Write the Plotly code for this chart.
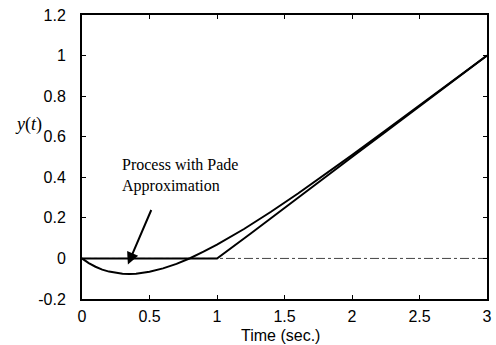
import plotly.graph_objects as go

# Response with Pade approximation of the delay
t_pade = [0.0, 0.05, 0.1, 0.15, 0.2, 0.25, 0.3, 0.35, 0.4, 0.5, 0.6, 0.7, 0.8, 0.9,
          1.0, 1.2, 1.4, 1.6, 1.8, 2.0, 2.25, 2.5, 2.75, 3.0]
y_pade = [0.0, -0.023, -0.041, -0.055, -0.065, -0.072, -0.076, -0.077, -0.075, -0.066,
          -0.049, -0.027, 0.001, 0.033, 0.068, 0.145, 0.230, 0.320, 0.414, 0.509,
          0.631, 0.753, 0.877, 1.0]

# Response with pure time delay
t_delay = [0.0, 1.0, 1.25, 1.5, 1.75, 2.0, 2.25, 2.5, 2.75, 3.0]
y_delay = [0.0, 0.0, 0.123, 0.25, 0.375, 0.5, 0.625, 0.75, 0.875, 1.0]

# Zero reference line
t_ref = [0.0, 3.0]
y_ref = [0.0, 0.0]

x_ticks = [0, 0.5, 1, 1.5, 2, 2.5, 3]
x_tick_text = ["0", "0.5", "1", "1.5", "2", "2.5", "3"]
y_ticks = [-0.2, 0, 0.2, 0.4, 0.6, 0.8, 1, 1.2]
y_tick_text = ["-0.2", "0", "0.2", "0.4", "0.6", "0.8", "1", "1.2"]

fig = go.Figure()
fig.add_trace(go.Scatter(x=t_ref, y=y_ref, mode="lines",
                         line=dict(color="#444444", width=1, dash="dashdot"),
                         showlegend=False))
fig.add_trace(go.Scatter(x=t_delay, y=y_delay, mode="lines",
                         line=dict(color="black", width=2), showlegend=False))
fig.add_trace(go.Scatter(x=t_pade, y=y_pade, mode="lines",
                         line=dict(color="black", width=2), showlegend=False))

fig.add_annotation(x=0.34, y=-0.03, ax=24, ay=-56, xref="x", yref="y",
                   showarrow=True, arrowhead=2, arrowsize=1.2, arrowwidth=2,
                   arrowcolor="black", text="")
fig.add_annotation(x=0.281, y=0.515, xref="x", yref="y", xanchor="left", yanchor="top",
                   showarrow=False, align="left",
                   text="Process with Pade<br>Approximation",
                   font=dict(family="Liberation Serif", size=16, color="black"))
fig.add_annotation(x=-0.133, y=0.613, xref="paper", yref="paper",
                   xanchor="center", yanchor="middle", showarrow=False,
                   text="<i>y</i>(<i>t</i>)",
                   font=dict(family="Liberation Serif", size=18, color="black"))
fig.add_annotation(x=0.49, y=-0.13, xref="paper", yref="paper",
                   xanchor="center", yanchor="middle", showarrow=False,
                   text="Time (sec.)",
                   font=dict(family="Liberation Sans", size=16, color="black"))

axis_common = dict(showline=True, linecolor="black", linewidth=2, mirror="ticks",
                   ticks="inside", ticklen=4, tickwidth=1, tickcolor="black",
                   showgrid=False, zeroline=False, automargin=False,
                   tickfont=dict(family="Liberation Sans", size=16, color="black"))

fig.update_xaxes(range=[0, 3], tickvals=x_ticks, ticktext=x_tick_text,
                 ticklabelstandoff=2, **axis_common)
fig.update_yaxes(range=[-0.2, 1.2], tickvals=y_ticks, ticktext=y_tick_text,
                 ticklabelstandoff=11, **axis_common)

fig.update_layout(width=496, height=345, margin=dict(l=82, r=9, t=15, b=46),
                  plot_bgcolor="white", paper_bgcolor="white")
fig.write_html("out.html")
